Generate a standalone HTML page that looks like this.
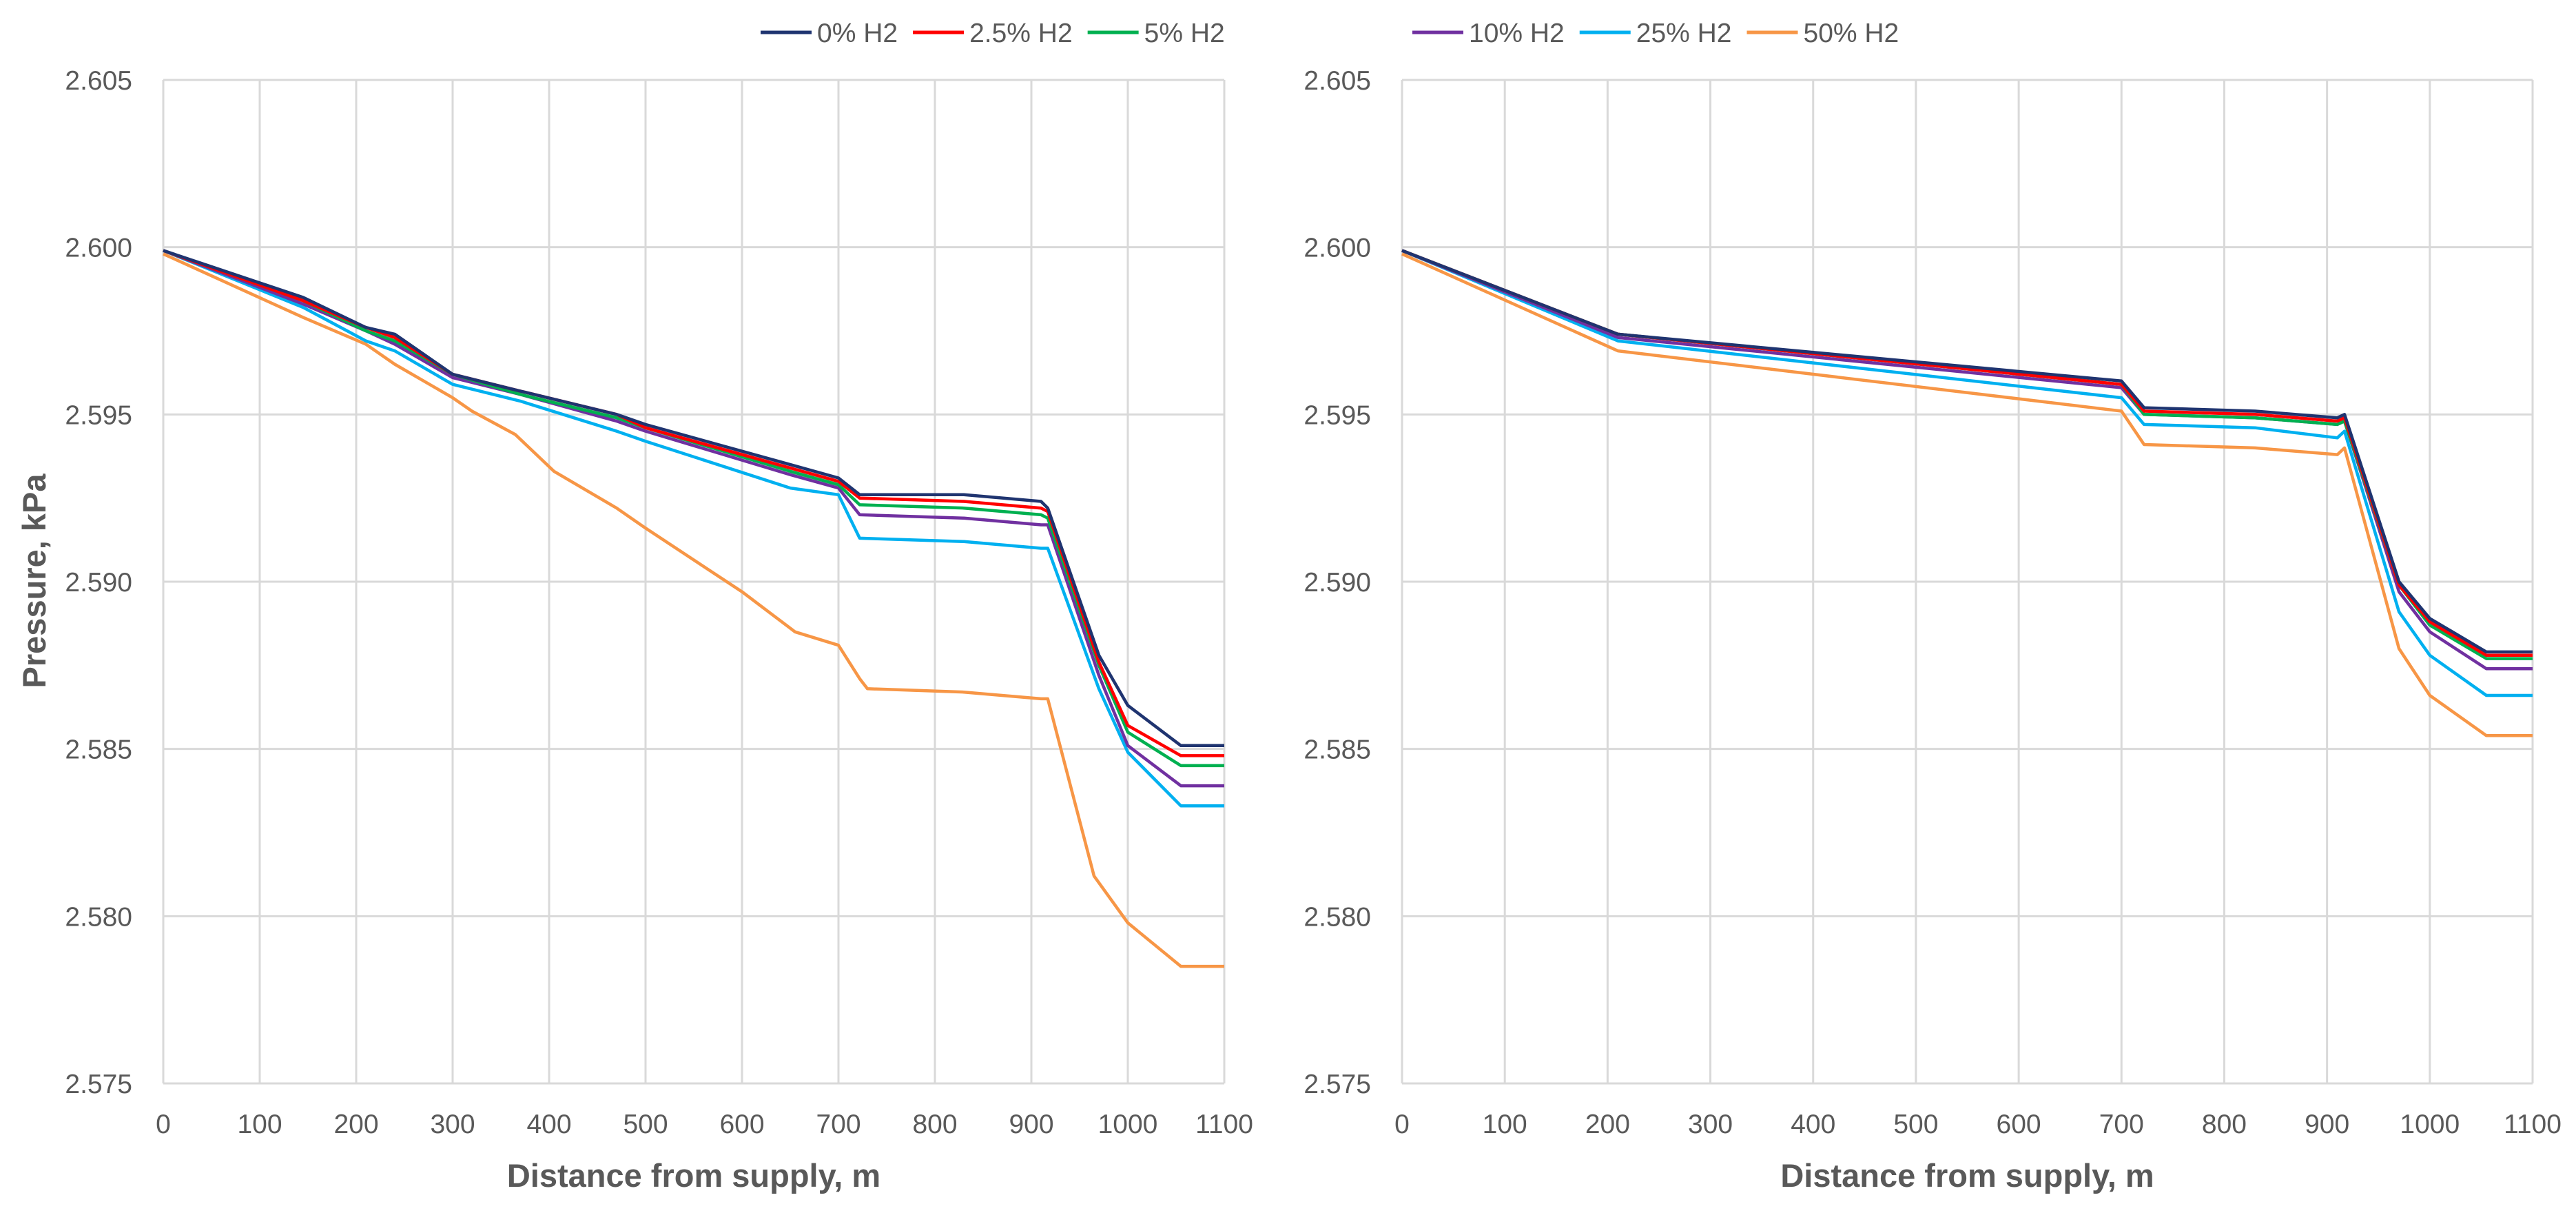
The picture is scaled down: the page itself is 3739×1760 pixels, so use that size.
<!DOCTYPE html>
<html><head><meta charset="utf-8"><style>
html,body{margin:0;padding:0;background:#fff;width:3739px;height:1760px;overflow:hidden}
svg text{font-family:"Liberation Sans",sans-serif;fill:#595959}
</style></head><body>
<svg id="chart" width="3739" height="1760" xmlns="http://www.w3.org/2000/svg"></svg>
<script>
const xTicks=[0,100,200,300,400,500,600,700,800,900,1000,1100];
const yTicks=[2.575,2.580,2.585,2.590,2.595,2.600,2.605];
const seriesNames=["0% H2","2.5% H2","5% H2","10% H2","25% H2","50% H2"];
const seriesColors=["#1f3470","#ff0000","#00b050","#7030a0","#00b0f0","#f79646"];
// left chart
const leftX=[0,145,210,240,300,370,470,500,650,700,722,830,910,917,970,1000,1055,1100];
const leftS0=[2.5999,2.5985,2.5976,2.5974,2.5962,2.5957,2.5950,2.5947,2.5935,2.5931,2.5926,2.5926,2.5924,2.5922,2.5878,2.5863,2.5851,2.5851];
const leftS1=[2.5999,2.5984,2.5976,2.5973,2.5962,2.5957,2.5950,2.5946,2.5934,2.5930,2.5925,2.5924,2.5922,2.5921,2.5876,2.5857,2.5848,2.5848];
const leftS2=[2.5999,2.5984,2.5975,2.5972,2.5962,2.5956,2.5949,2.5946,2.5933,2.5929,2.5923,2.5922,2.5920,2.5919,2.5875,2.5855,2.5845,2.5845];
const leftS3=[2.5999,2.5983,2.5975,2.5971,2.5961,2.5956,2.5948,2.5945,2.5932,2.5928,2.5920,2.5919,2.5917,2.5917,2.5872,2.5851,2.5839,2.5839];
const leftS4=[2.5999,2.5982,2.5972,2.5969,2.5959,2.5954,2.5945,2.5942,2.5928,2.5926,2.5913,2.5912,2.5910,2.5910,2.5868,2.5849,2.5833,2.5833];
const leftOX=[0,145,210,240,300,320,365,405,470,500,600,655,700,722,730,830,910,917,965,1000,1055,1100];
const leftO=[2.5998,2.5979,2.5971,2.5965,2.5955,2.5951,2.5944,2.5933,2.5922,2.5916,2.5897,2.5885,2.5881,2.5871,2.5868,2.5867,2.5865,2.5865,2.5812,2.5798,2.5785,2.5785];
// right chart
const rightX=[0,210,700,722,830,910,917,970,1000,1055,1100];
const rightS0=[2.5999,2.5974,2.5960,2.5952,2.5951,2.5949,2.5950,2.5900,2.5889,2.5879,2.5879];
const rightS1=[2.5999,2.5974,2.5959,2.5951,2.5950,2.5948,2.5949,2.5899,2.5888,2.5878,2.5878];
const rightS2=[2.5999,2.5974,2.5959,2.5950,2.5949,2.5947,2.5948,2.5899,2.5887,2.5877,2.5877];
const rightS3=[2.5999,2.5973,2.5958,2.5950,2.5949,2.5947,2.5948,2.5897,2.5885,2.5874,2.5874];
const rightS4=[2.5999,2.5972,2.5955,2.5947,2.5946,2.5943,2.5945,2.5891,2.5878,2.5866,2.5866];
const rightS5=[2.5998,2.5969,2.5951,2.5941,2.5940,2.5938,2.5940,2.5880,2.5866,2.5854,2.5854];

const NS="http://www.w3.org/2000/svg";
const svg=document.getElementById('chart');
function mk(tag,attrs,parent){const e=document.createElementNS(NS,tag);for(const k in attrs)e.setAttribute(k,attrs[k]);(parent||svg).appendChild(e);return e;}
const Y0=116,Y1=1572;
function yS(v){return Y0+(2.605-v)/0.030*(Y1-Y0);}

function drawPanel(pid,x0,x1,series,legendStart,legendIdx){
  const g=mk('g',{});
  
  
  const xS=v=>x0+v/1100*(x1-x0);
  xTicks.forEach(t=>{
    const l=mk('line',{x1:xS(t),x2:xS(t),y1:Y0,y2:Y1,stroke:'#d9d9d9','stroke-width':3},g);
    
    
    const tx=mk('text',{x:xS(t),y:1644,'text-anchor':'middle','font-size':39},g);
    
    
    tx.textContent=t;
  });
  yTicks.forEach(t=>{
    const l=mk('line',{x1:x0,x2:x1,y1:yS(t),y2:yS(t),stroke:'#d9d9d9','stroke-width':3},g);
    
    
    const tx=mk('text',{x:x0-45,y:yS(t)+14,'text-anchor':'end','font-size':39},g);
    
    
    tx.textContent=t.toFixed(3);
  });
  const xt=mk('text',{x:(x0+x1)/2,y:1722,'text-anchor':'middle','font-size':47,'font-weight':'bold'},g);
  
  
  xt.textContent='Distance from supply, m';
  series.slice().reverse().forEach(s=>{
    const pts=s.xs.map((x,i)=>xS(x).toFixed(1)+','+yS(s.ys[i]).toFixed(1)).join(' ');
    const p=mk('polyline',{points:pts,fill:'none',stroke:seriesColors[s.c],'stroke-width':4.5,'stroke-linejoin':'round'},g);
    
    
  });
  let lx=legendStart;
  legendIdx.forEach(i=>{
    const l=mk('line',{x1:lx,x2:lx+74,y1:47,y2:47,stroke:seriesColors[i],'stroke-width':5},g);
    
    
    const t=mk('text',{x:lx+82,y:61,'font-size':39},g);
    
    
    t.textContent=seriesNames[i];
    lx+=82+t.getComputedTextLength()+22;
  });
}
drawPanel('left-chart',237,1777,[
  {xs:leftX,ys:leftS0,c:0},{xs:leftX,ys:leftS1,c:1},{xs:leftX,ys:leftS2,c:2},
  {xs:leftX,ys:leftS3,c:3},{xs:leftX,ys:leftS4,c:4},{xs:leftOX,ys:leftO,c:5}],1104,[0,1,2]);
drawPanel('right-chart',2035,3676,[
  {xs:rightX,ys:rightS0,c:0},{xs:rightX,ys:rightS1,c:1},{xs:rightX,ys:rightS2,c:2},
  {xs:rightX,ys:rightS3,c:3},{xs:rightX,ys:rightS4,c:4},{xs:rightX,ys:rightS5,c:5}],2050,[3,4,5]);
const yt=mk('text',{x:0,y:0,'text-anchor':'middle','font-size':47,'font-weight':'bold',transform:'translate(66,843) rotate(-90)'});


yt.textContent='Pressure, kPa';
</script>
</body></html>
